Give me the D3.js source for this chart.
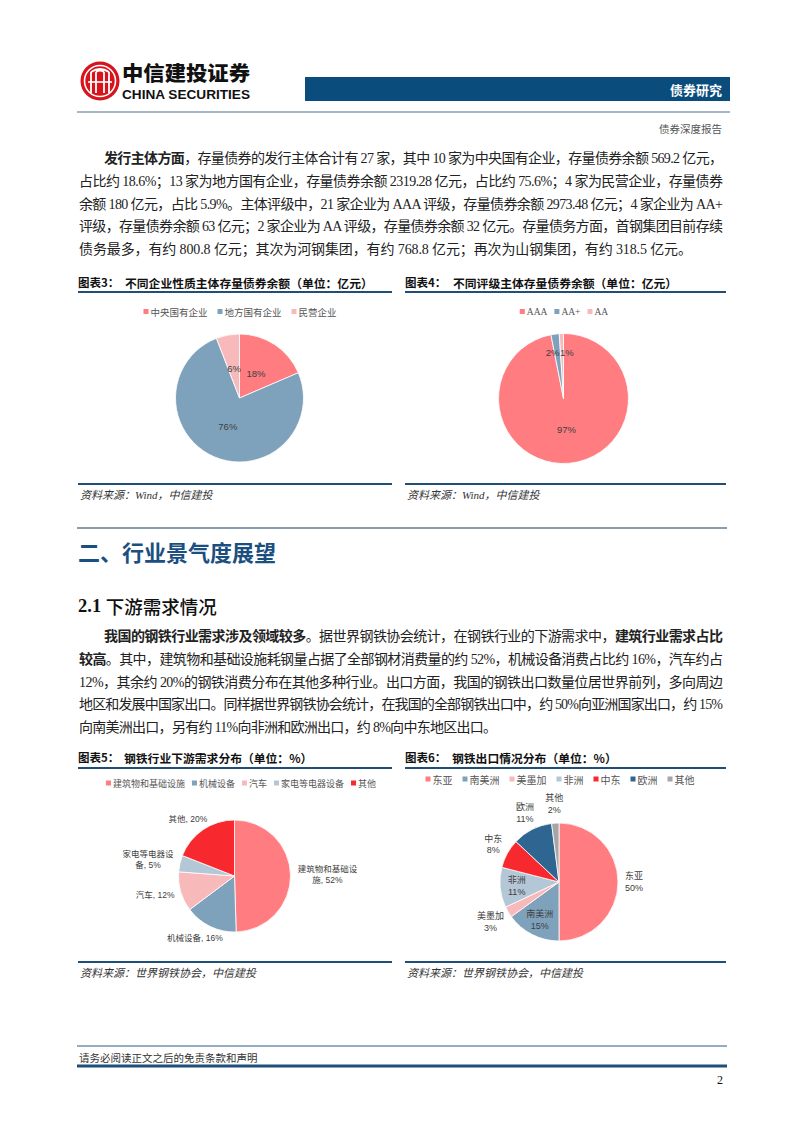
<!DOCTYPE html>
<html><head><meta charset="utf-8">
<script src="https://cdn.jsdelivr.net/npm/d3@7"></script>
<style>body{margin:0;background:#fff} svg{display:block}</style>
</head><body><svg id="page" width="802" height="1133"></svg>
<script>
// ---------------- data ----------------
const ownershipCats = ["中央国有企业", "地方国有企业", "民营企业"];
const ownershipVals = [569.2, 2319.28, 180];
const ratingCats = ["AAA", "AA+", "AA"];
const ratingVals = [2973.48, 63, 32];
const demandCats = ["建筑物和基础设施", "机械设备", "汽车", "家电等电器设备", "其他"];
const demandVals = [52, 16, 12, 5, 20];
const demandLabelLines = [["建筑物和基础设", "施, 52%"], ["机械设备, 16%"], ["汽车, 12%"], ["家电等电器设", "备, 5%"], ["其他, 20%"]];
const exportCats = ["东亚", "南美洲", "美墨加", "非洲", "中东", "欧洲", "其他"];
const exportVals = [50, 15, 3, 11, 8, 11, 2];
const exportInside = ["南美洲", "非洲"];

const para1 = [
  "**发行主体方面**，存量债券的发行主体合计有 27 家，其中 10 家为中央国有企业，存量债券余额 569.2 亿元，",
  "占比约 18.6%；13 家为地方国有企业，存量债券余额 2319.28 亿元，占比约 75.6%；4 家为民营企业，存量债券",
  "余额 180 亿元，占比 5.9%。主体评级中，21 家企业为 AAA 评级，存量债券余额 2973.48 亿元；4 家企业为 AA+",
  "评级，存量债券余额 63 亿元；2 家企业为 AA 评级，存量债券余额 32 亿元。存量债务方面，首钢集团目前存续",
  "债务最多，有约 800.8 亿元；其次为河钢集团，有约 768.8 亿元；再次为山钢集团，有约 318.5 亿元。"
];
const para2 = [
  "**我国的钢铁行业需求涉及领域较多**。据世界钢铁协会统计，在钢铁行业的下游需求中，**建筑行业需求占比**",
  "**较高**。其中，建筑物和基础设施耗钢量占据了全部钢材消费量的约 52%，机械设备消费占比约 16%，汽车约占",
  "12%，其余约 20%的钢铁消费分布在其他多种行业。出口方面，我国的钢铁出口数量位居世界前列，多向周边",
  "地区和发展中国家出口。同样据世界钢铁协会统计，在我国的全部钢铁出口中，约 50%向亚洲国家出口，约 15%",
  "向南美洲出口，另有约 11%向非洲和欧洲出口，约 8%向中东地区出口。"
];

// ---------------- styles ----------------
const C = {
  salmon: "#FF7C80", blueGray: "#7FA2BC", pink: "#F8B9BB", lightBlue: "#B4C7D7",
  red: "#F7282E", darkBlue: "#2E6591", gray: "#A6A6A6",
  navy: "#1F4E79", text: "#222"
};
const SERIF = "'Liberation Serif','Noto Sans CJK SC',serif";
const SANS = "'Liberation Sans','Noto Sans CJK SC',sans-serif";
const CJK = "'Noto Sans CJK SC',sans-serif";

const svg = d3.select("#page");

// ---------------- header ----------------
const logo = svg.append("g").attr("transform", "translate(100,81)");
logo.append("circle").attr("r", 19.5).attr("fill", "#D7141C");
logo.append("circle").attr("r", 15.5).attr("fill", "none").attr("stroke", "#fff").attr("stroke-width", 1.6);
[-9, -4, 4, 9].forEach(x => logo.append("line").attr("x1", x).attr("x2", x).attr("y1", -9).attr("y2", 12)
  .attr("stroke", "#fff").attr("stroke-width", 1.8));
logo.append("path").attr("d", "M-9,-9 Q0,-15 9,-9 M-4,-9 Q0,-12 4,-9").attr("fill", "none").attr("stroke", "#fff").attr("stroke-width", 1.8);
logo.append("line").attr("x1", -12).attr("x2", 12).attr("y1", 1).attr("y2", 1).attr("stroke", "#fff").attr("stroke-width", 1.6);

svg.append("text").attr("x", 122).attr("y", 81).attr("font-family", CJK).attr("font-weight", 900)
  .attr("font-size", 20).attr("fill", "#111")
  .attr("textLength", 128).attr("lengthAdjust", "spacingAndGlyphs").text("中信建投证券");
svg.append("text").attr("x", 122).attr("y", 98.5).attr("font-family", SANS).attr("font-weight", "bold")
  .attr("font-size", 12).attr("fill", "#111")
  .attr("textLength", 128).attr("lengthAdjust", "spacingAndGlyphs").text("CHINA SECURITIES");

svg.append("rect").attr("x", 305).attr("y", 77).attr("width", 425).attr("height", 24).attr("fill", "#0A4D7D");
svg.append("text").attr("x", 722).attr("y", 89).attr("dominant-baseline", "central").attr("text-anchor", "end")
  .attr("font-family", CJK).attr("font-weight", "bold").attr("font-size", 13).attr("fill", "#fff").text("债券研究");
svg.append("line").attr("x1", 77).attr("x2", 730).attr("y1", 112).attr("y2", 112).attr("stroke", "#4A7094").attr("stroke-width", 1);
svg.append("text").attr("x", 722).attr("y", 128).attr("dominant-baseline", "central").attr("text-anchor", "end")
  .attr("font-family", CJK).attr("font-size", 10.5).attr("fill", "#555").text("债券深度报告");

// ---------------- body text ----------------
function bodyLine(str, x, y, x2) {
  const t = svg.append("text").attr("x", x).attr("y", y).attr("dominant-baseline", "central")
    .attr("font-family", SERIF).attr("font-size", 14).attr("fill", C.text);
  str.split("**").forEach((s, i) => { if (s) t.append("tspan").attr("font-weight", i % 2 ? "bold" : null).text(s); });
  if (x2) t.attr("textLength", x2 - x).attr("lengthAdjust", "spacing");
}
function paragraph(lines, y0, lastEnd) {
  lines.forEach((l, i) => {
    const x = i === 0 ? 104 : 79;
    const x2 = i === lines.length - 1 ? lastEnd : 723;
    bodyLine(l, x, y0 + i * 22.8, x2);
  });
}
paragraph(para1, 158, 692);
paragraph(para2, 636, 497);

// section headings
svg.append("line").attr("x1", 77).attr("x2", 727).attr("y1", 528).attr("y2", 528).attr("stroke", "#5F7D99").attr("stroke-width", 1.5);
svg.append("text").attr("x", 78).attr("y", 551).attr("dominant-baseline", "central")
  .attr("font-family", CJK).attr("font-weight", "bold").attr("font-size", 22).attr("fill", "#1B4F7F").text("二、行业景气度展望");
const h2 = svg.append("text").attr("x", 78).attr("y", 606).attr("dominant-baseline", "central")
  .attr("font-size", 18.5).attr("font-weight", "bold").attr("fill", "#111");
h2.append("tspan").attr("font-family", SERIF).text("2.1 ");
h2.append("tspan").attr("font-family", CJK).attr("font-weight", 500).text("下游需求情况");

// ---------------- chart frames ----------------
function frame(x1, x2, yTitle, yLine, yBottom, num, title, titleX) {
  svg.append("text").attr("x", x1).attr("y", yTitle).attr("dominant-baseline", "central")
    .attr("font-family", CJK).attr("font-weight", "bold").attr("font-size", 11.5).attr("fill", "#111").text(`图表${num}：`);
  svg.append("text").attr("x", titleX).attr("y", yTitle).attr("dominant-baseline", "central")
    .attr("font-family", CJK).attr("font-weight", "bold").attr("font-size", 11.8).attr("fill", "#111").text(title);
  svg.append("line").attr("x1", x1).attr("x2", x2).attr("y1", yLine).attr("y2", yLine).attr("stroke", C.navy).attr("stroke-width", 2);
  svg.append("line").attr("x1", x1).attr("x2", x2).attr("y1", yBottom).attr("y2", yBottom).attr("stroke", C.navy).attr("stroke-width", 2);
}
function source(x, y, txt) {
  svg.append("text").attr("x", x).attr("y", y).attr("dominant-baseline", "central")
    .attr("font-family", SERIF).attr("font-style", "italic").attr("font-size", 11).attr("fill", "#333").text(txt);
}
frame(78, 392, 282, 292, 484, 3, "不同企业性质主体存量债券余额（单位：亿元）", 125);
frame(405, 726, 282, 292, 484, 4, "不同评级主体存量债券余额（单位：亿元）", 453);
frame(78, 392, 757, 768, 962, 5, "钢铁行业下游需求分布（单位：%）", 124);
frame(405, 726, 757, 768, 962, 6, "钢铁出口情况分布（单位：%）", 452);
source(80, 495, "资料来源：Wind，中信建投");
source(407, 495, "资料来源：Wind，中信建投");
source(80, 973, "资料来源：世界钢铁协会，中信建投");
source(407, 973, "资料来源：世界钢铁协会，中信建投");

// ---------------- legend ----------------
function legend(cx, y, cats, colors, gap, fontSize, family) {
  const g = svg.append("g");
  let x = 0;
  cats.forEach((c, i) => {
    g.append("rect").attr("x", x).attr("y", y - 2.5).attr("width", 5).attr("height", 5).attr("fill", colors[i]);
    const t = g.append("text").attr("x", x + 7).attr("y", y).attr("dominant-baseline", "central")
      .attr("font-family", family).attr("font-size", fontSize).attr("fill", "#555").text(c);
    x += 7 + t.node().getComputedTextLength() + gap;
  });
  const w = x - gap;
  g.attr("transform", `translate(${cx - w / 2},0)`);
}

// ---------------- pie ----------------
function roundPercents(vals) {
  const sum = d3.sum(vals);
  const raw = vals.map(v => v / sum * 100);
  const fl = raw.map(Math.floor);
  let rem = 100 - d3.sum(fl);
  const order = d3.range(vals.length).sort((a, b) => (raw[b] - fl[b]) - (raw[a] - fl[a]));
  for (let k = 0; k < rem; k++) fl[order[k]]++;
  return fl;
}
function drawPie(opt) {
  const { cx, cy, r, vals, colors, labels, inside, inFactor, fontSize } = opt;
  const g = svg.append("g").attr("transform", `translate(${cx},${cy})`);
  const arcs = d3.pie().sort(null).startAngle(0).endAngle(2 * Math.PI)(vals);
  const arc = d3.arc().innerRadius(0).outerRadius(r);
  g.selectAll("path").data(arcs).join("path").attr("d", arc)
    .attr("fill", (d, i) => colors[i]).attr("stroke", "#fff").attr("stroke-width", 0.8);
  const boxes = [];
  arcs.forEach((d, i) => {
    const a = (d.startAngle + d.endAngle) / 2;
    const s = Math.sin(a), c = -Math.cos(a);
    const lines = labels[i];
    const t = g.append("text").attr("font-family", SANS).attr("font-size", fontSize).attr("fill", "#404040")
      .attr("text-anchor", "middle");
    const lh = fontSize * 1.32;
    lines.forEach((l, k) => t.append("tspan").attr("x", 0).attr("dy", k === 0 ? 0 : lh).text(l));
    const bb = t.node().getBBox();
    const w = bb.width, h = lines.length * lh;
    let x, y;
    if (inside(i, d)) {
      const rr = r * inFactor(i, d);
      x = rr * s; y = rr * c;
    } else {
      const rr = r + 7;
      x = rr * s + s * w / 2; y = rr * c + c * h / 2;
    }
    boxes.push({ t, x, y, w, h, lines, lh });
  });
  // simple horizontal de-overlap
  for (let i = 0; i < boxes.length; i++) for (let j = i + 1; j < boxes.length; j++) {
    const A = boxes[i], B = boxes[j];
    const ox = (A.w + B.w) / 2 - Math.abs(A.x - B.x), oy = (A.h + B.h) / 2 - Math.abs(A.y - B.y);
    if (ox > 0 && oy > 0) {
      const dir = A.x <= B.x ? -1 : 1;
      A.x += dir * ox / 2; B.x -= dir * ox / 2;
    }
  }
  boxes.forEach(b => {
    const top = b.y - b.h / 2 + b.lh / 2;
    b.t.attr("transform", `translate(${b.x},${top})`).attr("dominant-baseline", "central");
  });
}

// chart 3
const c3Colors = [C.salmon, C.blueGray, C.pink];
legend(240, 311.5, ownershipCats, c3Colors, 10, 9.5, CJK);
const p3 = roundPercents(ownershipVals);
drawPie({ cx: 239.5, cy: 398, r: 64, vals: ownershipVals, colors: c3Colors, fontSize: 9.5,
  labels: p3.map(p => [p + "%"]), inside: () => true, inFactor: () => 0.47 });

// chart 4
legend(564, 311.5, ratingCats, c3Colors, 7, 9.5, SERIF);
const p4 = roundPercents(ratingVals);
drawPie({ cx: 563.5, cy: 398.5, r: 65, vals: ratingVals, colors: c3Colors, fontSize: 9.5,
  labels: p4.map(p => [p + "%"]), inside: () => true,
  inFactor: (i, d) => (d.endAngle - d.startAngle) < 0.25 ? 0.72 : 0.47 });

// chart 5
const c5Colors = [C.salmon, C.blueGray, C.pink, C.lightBlue, C.red];
legend(241, 783, demandCats, c5Colors, 7, 9, CJK);
drawPie({ cx: 234.5, cy: 876, r: 56, vals: demandVals, colors: c5Colors, fontSize: 8.5,
  labels: demandLabelLines, inside: () => false, inFactor: () => 0.6 });

// chart 6
const c6Colors = [C.salmon, C.blueGray, C.pink, C.lightBlue, C.red, C.darkBlue, C.gray];
legend(560, 779, exportCats, c6Colors, 10, 10, CJK);
drawPie({ cx: 559, cy: 882, r: 59, vals: exportVals, colors: c6Colors, fontSize: 9,
  labels: exportCats.map((c, i) => [c, exportVals[i] + "%"]),
  inside: i => exportInside.includes(exportCats[i]), inFactor: () => 0.72 });

// ---------------- footer ----------------
svg.append("line").attr("x1", 77).attr("x2", 727).attr("y1", 1046).attr("y2", 1046).attr("stroke", "#2B5A85").attr("stroke-width", 1);
svg.append("text").attr("x", 79).attr("y", 1057).attr("dominant-baseline", "central")
  .attr("font-family", CJK).attr("font-size", 10.5).attr("fill", "#333").text("请务必阅读正文之后的免责条款和声明");
svg.append("rect").attr("x", 77).attr("y", 1064.5).attr("width", 650).attr("height", 3).attr("fill", "#1E4F7B");
svg.append("text").attr("x", 723).attr("y", 1080).attr("dominant-baseline", "central").attr("text-anchor", "end")
  .attr("font-family", SERIF).attr("font-size", 12).attr("fill", "#111").text("2");
</script></body></html>
